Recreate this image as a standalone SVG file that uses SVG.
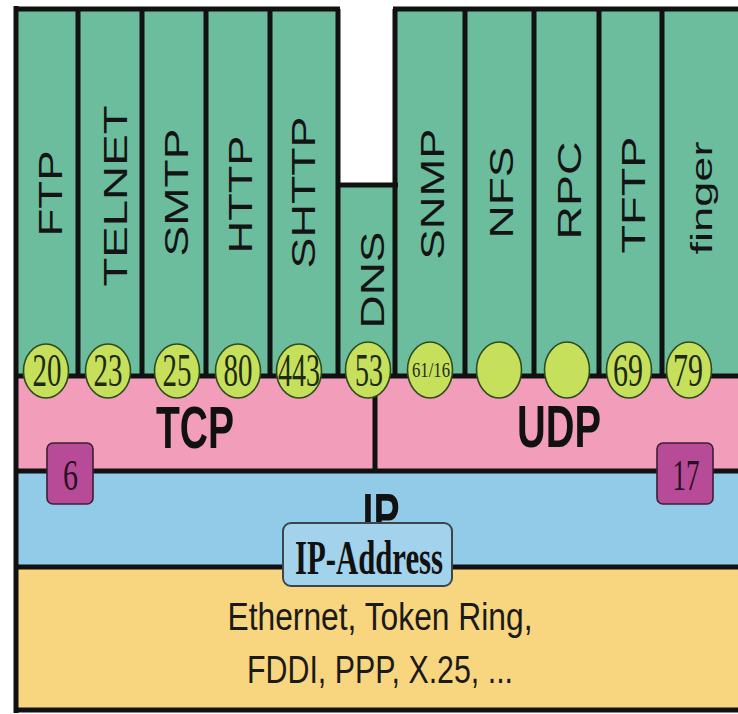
<svg xmlns="http://www.w3.org/2000/svg" width="738" height="714" viewBox="0 0 738 714">
<style>
.ln{stroke:#111;stroke-width:5;fill:none}
.vt{font-family:"Liberation Sans",Arial,sans-serif;font-size:33px;fill:#141414;text-anchor:middle}
.port{fill:#c6e05c;stroke:#2c4a1f;stroke-width:1.6}
.pn{font-family:"Liberation Serif","Times New Roman",serif;font-size:46px;fill:#1e2a14;text-anchor:middle}
.big{font-family:"Liberation Sans",Arial,sans-serif;font-weight:bold;font-size:60px;fill:#111;text-anchor:middle}
.badge{fill:#b84b98;stroke:#3b1f34;stroke-width:1.6}
.bn{font-family:"Liberation Serif","Times New Roman",serif;font-size:44px;fill:#2a1020;text-anchor:middle}
.eth{font-family:"Liberation Sans",Arial,sans-serif;font-size:38px;fill:#1a1a1a;text-anchor:middle}
</style>
<rect width="738" height="714" fill="#fff"/>
<g id="fills">
<rect x="16" y="9" width="322" height="367" fill="#6cbc9e"/>
<rect x="338" y="185" width="57" height="191" fill="#6cbc9e"/>
<rect x="395" y="9" width="343" height="367" fill="#6cbc9e"/>
<rect x="16" y="376" width="722" height="95" fill="#f29dba"/>
<rect x="16" y="471" width="722" height="96" fill="#92cbe8"/>
<rect x="16" y="567" width="722" height="143" fill="#f8d57f"/>
</g>
<g id="connectors">
<path class="ln" stroke-width="6" d="M14 9H340M393 9H738M336 185H398"/>
<path class="ln" d="M16 6V713M78 9V376M142 9V376M206 9V376M270 9V376M338 9V376M395 9V376M465 9V376M534 9V376M599 9V376M662 9V376"/>
<path class="ln" stroke-width="6" d="M16 376H738M16 471H738M16 567H738M16 710H738"/>
<path class="ln" d="M375 376V471"/>
</g>
<g id="ftp"><text class="vt" transform="translate(62,193.5) rotate(-90)" textLength="86" lengthAdjust="spacingAndGlyphs">FTP</text><ellipse class="port" cx="46" cy="371" rx="22.5" ry="27"/><text class="pn" x="47" y="386" textLength="29" lengthAdjust="spacingAndGlyphs">20</text></g>
<g id="telnet"><text class="vt" transform="translate(127,196) rotate(-90)" textLength="181" lengthAdjust="spacingAndGlyphs">TELNET</text><ellipse class="port" cx="108" cy="371" rx="22.5" ry="27"/><text class="pn" x="108" y="386" textLength="29" lengthAdjust="spacingAndGlyphs">23</text></g>
<g id="smtp"><text class="vt" transform="translate(188,192.5) rotate(-90)" textLength="128" lengthAdjust="spacingAndGlyphs">SMTP</text><ellipse class="port" cx="177" cy="371" rx="22.5" ry="27"/><text class="pn" x="177" y="386" textLength="29" lengthAdjust="spacingAndGlyphs">25</text></g>
<g id="http"><text class="vt" transform="translate(252,194.5) rotate(-90)" textLength="118" lengthAdjust="spacingAndGlyphs">HTTP</text><ellipse class="port" cx="238" cy="371" rx="22.5" ry="27"/><text class="pn" x="238" y="386" textLength="29" lengthAdjust="spacingAndGlyphs">80</text></g>
<g id="shttp"><text class="vt" transform="translate(315,192.5) rotate(-90)" textLength="152" lengthAdjust="spacingAndGlyphs">SHTTP</text><ellipse class="port" cx="299" cy="371" rx="22.5" ry="27"/><text class="pn" x="299" y="386" textLength="42" lengthAdjust="spacingAndGlyphs">443</text></g>
<g id="dns"><text class="vt" transform="translate(384,280) rotate(-90)" textLength="97" lengthAdjust="spacingAndGlyphs">DNS</text><ellipse class="port" cx="368" cy="370" rx="22.5" ry="28"/><text class="pn" x="369" y="386" textLength="28" lengthAdjust="spacingAndGlyphs">53</text></g>
<g id="snmp"><text class="vt" transform="translate(444,194) rotate(-90)" textLength="131" lengthAdjust="spacingAndGlyphs">SNMP</text><ellipse class="port" cx="430" cy="370" rx="22.5" ry="28"/><text class="pn" x="431" y="377" style="font-size:20px" textLength="38" lengthAdjust="spacingAndGlyphs">61/16</text></g>
<g id="nfs"><text class="vt" transform="translate(513,192.5) rotate(-90)" textLength="92" lengthAdjust="spacingAndGlyphs">NFS</text><ellipse class="port" cx="499" cy="370" rx="22.5" ry="28"/></g>
<g id="rpc"><text class="vt" transform="translate(581,190.5) rotate(-90)" textLength="98" lengthAdjust="spacingAndGlyphs">RPC</text><ellipse class="port" cx="567" cy="370" rx="22.5" ry="28"/></g>
<g id="tftp"><text class="vt" transform="translate(645,195) rotate(-90)" textLength="117" lengthAdjust="spacingAndGlyphs">TFTP</text><ellipse class="port" cx="629" cy="370" rx="22.5" ry="28"/><text class="pn" x="628" y="386" textLength="30" lengthAdjust="spacingAndGlyphs">69</text></g>
<g id="finger"><text class="vt" style="font-size:29px" transform="translate(712,198) rotate(-90)" textLength="113" lengthAdjust="spacingAndGlyphs">finger</text><ellipse class="port" cx="689" cy="370" rx="22.5" ry="28"/><text class="pn" x="688" y="386" textLength="30" lengthAdjust="spacingAndGlyphs">79</text></g>
<g id="tcp"><text class="big" x="195" y="448" textLength="78" lengthAdjust="spacingAndGlyphs">TCP</text><rect class="badge" x="47" y="443" width="46" height="61" rx="6"/><text class="bn" x="70.5" y="490" textLength="15" lengthAdjust="spacingAndGlyphs">6</text></g>
<g id="udp"><text class="big" x="559" y="447" textLength="84" lengthAdjust="spacingAndGlyphs">UDP</text><rect class="badge" x="657" y="443" width="56" height="61" rx="6"/><text class="bn" x="686" y="490" textLength="27" lengthAdjust="spacingAndGlyphs">17</text></g>
<g id="ip"><text class="big" x="381" y="535" textLength="37" lengthAdjust="spacingAndGlyphs">IP</text><rect x="283" y="523" width="169" height="63" rx="8" fill="#a3d3ec" stroke="#3a464c" stroke-width="2"/><text x="369" y="574" font-family="'Liberation Serif','Times New Roman',serif" font-weight="bold" font-size="48" fill="#111" text-anchor="middle" textLength="148" lengthAdjust="spacingAndGlyphs">IP-Address</text></g>
<g id="link"><text class="eth" x="380" y="630" textLength="305" lengthAdjust="spacingAndGlyphs">Ethernet, Token Ring,</text><text class="eth" x="380" y="683" textLength="266" lengthAdjust="spacingAndGlyphs">FDDI, PPP, X.25, ...</text></g>
</svg>
